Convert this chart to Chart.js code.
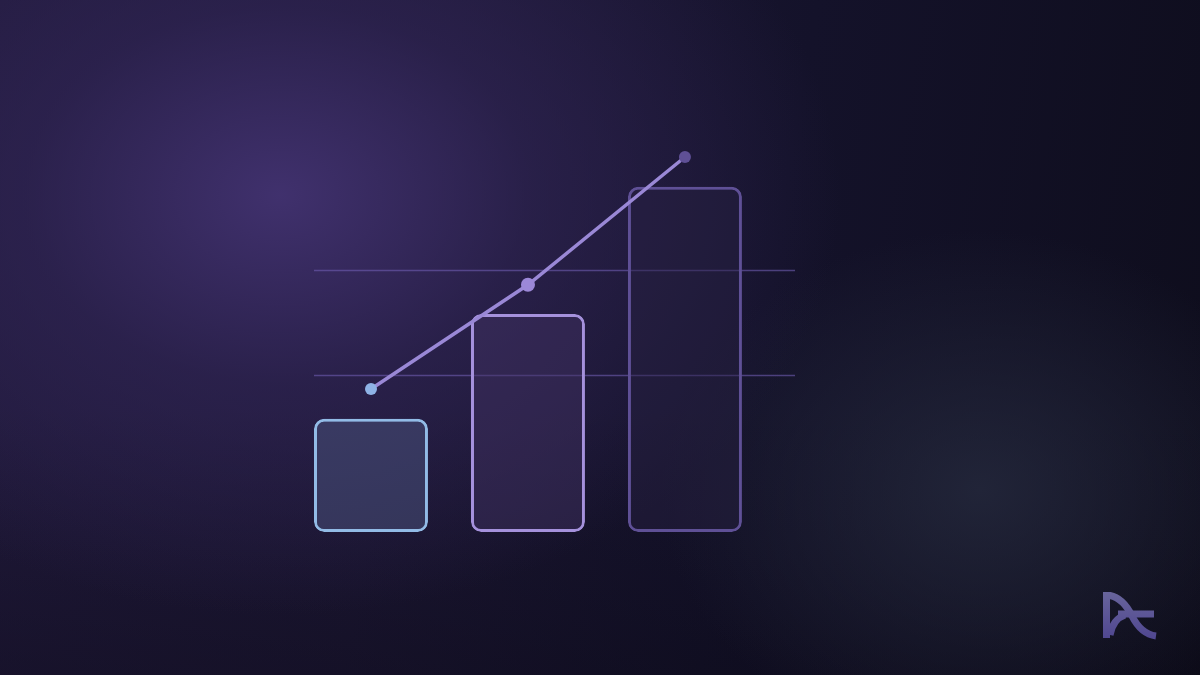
<!DOCTYPE html>
<html>
<head>
<meta charset="utf-8">
<script src="https://cdn.jsdelivr.net/npm/chart.js@4/dist/chart.umd.min.js"></script>
<style>
  html, body { margin: 0; padding: 0; }
  body {
    width: 1200px; height: 675px; overflow: hidden;
    background:
      radial-gradient(ellipse 560px 420px at 280px 195px, rgba(66,50,112,0.95) 0%, rgba(50,38,88,0.6) 45%, rgba(40,30,70,0) 100%),
      radial-gradient(ellipse 320px 260px at 980px 490px, rgba(36,40,60,0.85), rgba(36,40,60,0) 100%),
      linear-gradient(180deg, rgba(0,0,0,0) 60%, rgba(8,6,16,0.35) 100%),
      linear-gradient(100deg, #211a3c 0%, #1c1734 35%, #14122a 62%, #0e0d1c 100%);
  }
  #wrap { position: absolute; left: 0; top: 0; width: 1200px; height: 675px; }
  #logo { position: absolute; left: 1098px; top: 588px; }
</style>
</head>
<body>
<div id="wrap"><canvas id="chart"></canvas></div>
<svg id="logo" width="64" height="56" viewBox="0 0 64 56">
  <defs>
    <linearGradient id="lg" gradientUnits="userSpaceOnUse" x1="0" y1="0" x2="0" y2="52">
      <stop offset="0" stop-color="#6a679c"/>
      <stop offset="1" stop-color="#4f4690"/>
    </linearGradient>
  </defs>
  <g fill="none" stroke="url(#lg)" stroke-width="7" stroke-linecap="butt">
    <path d="M8.5 4 L8.5 50"/>
    <path d="M5 7.5 L12 7.5 Q25 10 34 28 Q43 46 58 48"/>
    <path d="M20 26 L56 26"/>
    <path d="M12 47 Q15 31 27 27"/>
  </g>
</svg>
<script>
var categories = ['1', '2', '3'];
var barValues = [21.6, 41.6, 65.9];
var lineValues = [27.3, 47.2, 71.6];
var gridTicks = [30, 50];

var barBorders = ['#92bbe6', '#a591dc', '#5f5096'];
var barFills = ['rgba(72,80,122,0.55)', 'rgba(66,52,100,0.45)', 'rgba(40,34,66,0.45)'];
var pointColors = ['#8fb3e6', '#9c88d8', '#5f5096'];

var gridPlugin = {
  id: 'gridLines',
  beforeDatasetsDraw: function(chart) {
    var ctx = chart.ctx, area = chart.chartArea, y = chart.scales.y;
    ctx.save();
    ctx.strokeStyle = 'rgba(112,94,178,0.6)';
    ctx.lineWidth = 1.5;
    gridTicks.forEach(function(v) {
      var py = Math.round(y.getPixelForValue(v)) + 0.5;
      ctx.beginPath();
      ctx.moveTo(area.left, py);
      ctx.lineTo(area.right, py);
      ctx.stroke();
    });
    ctx.restore();
  }
};

var ctx = document.getElementById('chart');
var chart = new Chart(ctx, {
  type: 'bar',
  data: {
    datasets: [{
      type: 'line',
      data: categories.map(function(c, i) { return { x: i, y: lineValues[i] }; }),
      borderColor: '#9a88d6',
      borderWidth: 3.5,
      pointRadius: [6, 7, 6],
      pointBorderWidth: 0,
      pointBackgroundColor: pointColors,
      tension: 0,
      order: 1
    }, {
      data: categories.map(function(c, i) { return { x: i, y: barValues[i] }; }),
      backgroundColor: barFills,
      borderColor: barBorders,
      borderWidth: 3,
      borderRadius: 10,
      borderSkipped: false,
      categoryPercentage: 1,
      barPercentage: 0.726,
      order: 2
    }]
  },
  options: {
    responsive: true,
    maintainAspectRatio: false,
    animation: false,
    layout: { autoPadding: false, padding: { left: 314, right: 405, top: 113, bottom: 143 } },
    plugins: { legend: { display: false }, tooltip: { enabled: false } },
    scales: {
      x: {
        type: 'linear', display: false, offset: false, min: -0.363, max: 2.701,
        afterBuildTicks: function(scale) {
          scale.ticks = categories.map(function(c, i) { return { value: i }; });
        }
      },
      y: { display: false, min: 0, max: 80 }
    }
  },
  plugins: [gridPlugin]
});
</script>
</body>
</html>
